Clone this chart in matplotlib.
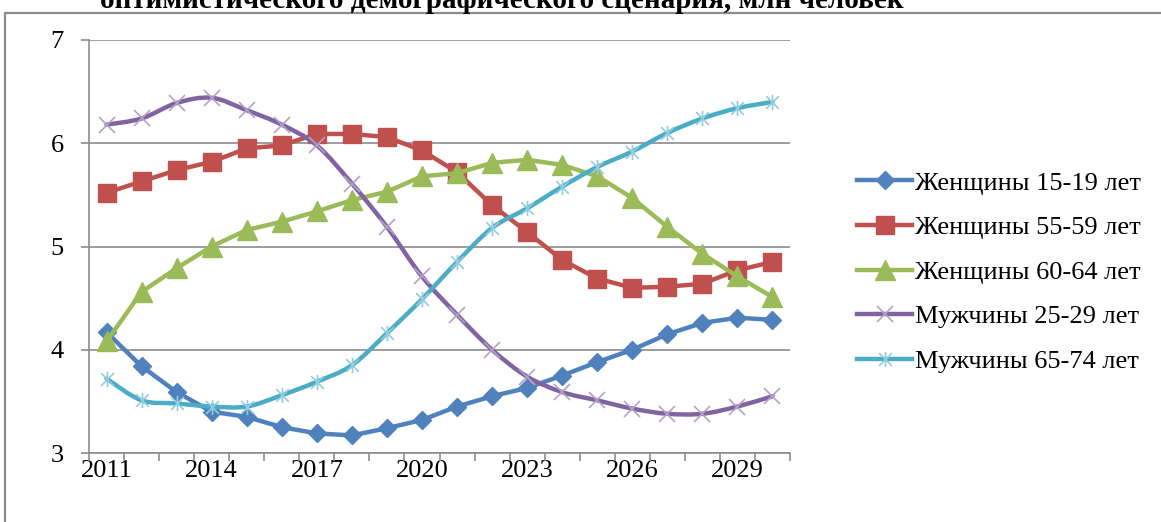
import numpy as np
import matplotlib
matplotlib.use("Agg")
import matplotlib.pyplot as plt
from matplotlib.path import Path
from matplotlib.patches import PathPatch
from matplotlib.lines import Line2D

plt.rcParams.update({"font.family": ["Liberation Serif", "DejaVu Serif"], "font.size": 19})

YEARS = list(range(2011, 2031))
W15_19 = [4.17, 3.84, 3.59, 3.40, 3.35, 3.25, 3.19, 3.17, 3.24, 3.32,
          3.45, 3.55, 3.63, 3.75, 3.88, 4.00, 4.15, 4.26, 4.31, 4.29]
W55_59 = [5.52, 5.63, 5.74, 5.82, 5.95, 5.98, 6.09, 6.09, 6.06, 5.93,
          5.72, 5.40, 5.14, 4.87, 4.69, 4.60, 4.61, 4.64, 4.77, 4.85]
W60_64 = [4.08, 4.56, 4.79, 5.00, 5.16, 5.24, 5.34, 5.45, 5.53, 5.68,
          5.71, 5.81, 5.84, 5.79, 5.68, 5.47, 5.19, 4.93, 4.71, 4.51]
M25_29 = [6.18, 6.24, 6.39, 6.44, 6.32, 6.18, 5.98, 5.61, 5.19, 4.71,
          4.34, 4.00, 3.74, 3.59, 3.51, 3.43, 3.38, 3.38, 3.45, 3.55]
M65_74 = [3.72, 3.51, 3.48, 3.45, 3.45, 3.56, 3.69, 3.85, 4.16, 4.49,
          4.85, 5.18, 5.37, 5.58, 5.77, 5.92, 6.10, 6.24, 6.34, 6.40]
LABELS = ["Женщины 15-19 лет", "Женщины 55-59 лет", "Женщины 60-64 лет",
          "Мужчины 25-29 лет", "Мужчины 65-74 лет"]
TITLE = "оптимистического демографического сценария, млн человек"

# Excel-style star marker: x plus vertical bar
STAR = Path([(-1, -1), (1, 1), (-1, 1), (1, -1), (0, -1.2), (0, 1.2)],
            [Path.MOVETO, Path.LINETO, Path.MOVETO, Path.LINETO, Path.MOVETO, Path.LINETO])


def smooth_path(x, y, t=1 / 6):
    """Bezier path through the points (Excel 'smoothed line')."""
    pts = np.column_stack([x, y]).astype(float)
    verts, codes = [pts[0]], [Path.MOVETO]
    n = len(pts)
    for i in range(n - 1):
        p0 = pts[max(i - 1, 0)]
        p1, p2 = pts[i], pts[i + 1]
        p3 = pts[min(i + 2, n - 1)]
        verts += [p1 + (p2 - p0) * t, p2 - (p3 - p1) * t, p2]
        codes += [Path.CURVE4] * 3
    return Path(verts, codes)


series = [
    (W15_19, "#4F81BD", dict(marker="D", ms=9, mfc="#4F81BD", mec="#4F81BD"), False),
    (W55_59, "#C0504D", dict(marker="s", ms=13, mfc="#C0504D", mec="#C0504D"), False),
    (W60_64, "#9BBB59", dict(marker="^", ms=14, mfc="#9BBB59", mec="#9BBB59"), False),
    (M25_29, "#8064A2", dict(marker="x", ms=11, mec="#B3A2C7", mew=1.2), True),
    (M65_74, "#4BACC6", dict(marker=STAR, ms=11, mfc="none", mec="#93CDDD", mew=1.2), True),
]

fig = plt.figure(figsize=(11.61, 5.22), dpi=100)
ax = fig.add_axes([89 / 1161, 1 - 453 / 522, (790 - 89) / 1161, (453 - 40) / 522])
x = np.arange(len(YEARS))
handles = []
for k, (vals, col, mk, smooth) in enumerate(series):
    z = 3 + k
    if smooth:
        ax.add_patch(PathPatch(smooth_path(x, vals), fill=False, edgecolor=col,
                               lw=3.2, zorder=z, capstyle="round", joinstyle="round"))
        ax.plot(x, vals, ls="none", zorder=z + 0.5, **mk)
    else:
        ax.plot(x, vals, color=col, lw=3.2, zorder=z, **mk)
    handles.append(Line2D([], [], color=col, lw=3.2, **mk))

ax.set_xlim(-0.5, len(YEARS) - 0.5)
ax.set_ylim(3, 7)
ax.set_yticks([3, 4, 5, 6, 7])
ax.yaxis.grid(True, color="#8C8C8C", lw=1.2)
ax.set_axisbelow(True)
ax.set_xticks(x[::3])
ax.set_xticklabels([str(y) for y in YEARS[::3]])
ax.set_xticks(np.arange(-0.5, len(YEARS)), minor=True)
ax.tick_params(axis="x", which="major", length=0, pad=5)
ax.tick_params(axis="x", which="minor", length=6, color="#8C8C8C", width=1.2)
ax.tick_params(axis="y", length=6, color="#8C8C8C", width=1.2, pad=12)
for s in ("top", "right"):
    ax.spines[s].set_visible(False)
for s in ("left", "bottom"):
    ax.spines[s].set_color("#8C8C8C")
    ax.spines[s].set_linewidth(1.2)

fig.legend(handles, LABELS, loc="center left", bbox_to_anchor=(857 / 1161, 1 - 272 / 522),
           frameon=False, handlelength=2.1, handletextpad=0.1, labelspacing=0.8,
           fontsize=19, borderaxespad=0, borderpad=0)

fig.text(0.432, 1 - 1 / 522, TITLE, ha="center", va="center", fontsize=21, fontweight="bold")

# outer chart frame (cut by the image edge)
fig.add_artist(Line2D([5 / 1161, 5 / 1161, 1.0], [0, 1 - 13 / 522, 1 - 13 / 522],
                      color="#8C8C8C", lw=1.6))

fig.savefig("out.png", dpi=100)
